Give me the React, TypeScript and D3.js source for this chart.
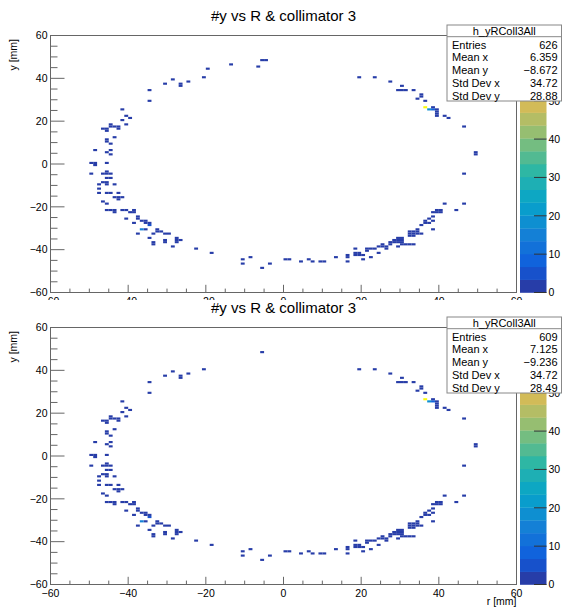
import React from 'react';
import * as d3 from 'd3';

type Cell = [number, number, number];

// [x bin lower edge (mm), y bin lower edge (mm), entries]
const sharedCells: Cell[] = [
  // upper-left arc
  [-35, 34, 1], [-35, 29, 1], [-31, 37, 1], [-29, 39, 1], [-27, 37, 2], [-27, 36, 2], [-25, 38, 1], [-21, 40, 1], [-6, 48, 1],
  // upper-right arc
  [19, 40, 1], [23, 40, 1], [27, 38, 1], [30, 36, 1], [29, 34, 1], [30, 34, 1], [31, 34, 1], [33, 34, 1],
  [35, 32, 2], [35, 31, 2], [34, 30, 1], [36, 29, 2], [36, 26, 64], [37, 25, 18], [38, 25, 9], [38, 26, 2],
  [39, 25, 3], [39, 24, 3], [39, 23, 3], [39, 22, 2], [41, 22, 1], [42, 21, 1], [46, 17, 1],
  // right side
  [49, 4, 3], [49, 5, 3], [46, -5, 1], [41, -19, 1], [46, -19, 1], [44, -22, 1],
  // lower-right band
  [39, -22, 2], [40, -22, 2], [38, -23, 2], [39, -23, 2], [40, -23, 1],
  [38, -25, 1], [37, -26, 2], [38, -27, 1], [37, -28, 1], [36, -27, 2], [36, -28, 2], [38, -31, 1],
  [35, -29, 2], [35, -33, 1], [34, -31, 2], [34, -32, 2], [34, -33, 2], [33, -32, 2], [33, -33, 3], [33, -34, 2],
  [32, -32, 1], [32, -33, 2], [32, -34, 2],
  [30, -38, 1], [31, -38, 1], [32, -38, 1], [33, -38, 1],
  [29, -35, 2], [29, -36, 2], [30, -35, 2], [30, -36, 3], [29, -37, 1], [30, -37, 2],
  [28, -36, 2], [28, -37, 1], [27, -37, 1], [27, -38, 1], [29, -39, 1],
  [25, -38, 1], [25, -39, 1], [26, -39, 2], [26, -40, 1], [24, -39, 1], [23, -40, 1], [22, -40, 1], [21, -40, 1], [21, -41, 1], [24, -42, 1],
  [22, -44, 1], [20, -43, 1], [19, -42, 1], [18, -40, 1], [18, -42, 2], [18, -43, 2], [19, -43, 1], [20, -45, 1],
  [16, -43, 1], [16, -44, 1], [16, -46, 1], [13, -44, 1],
  [9, -46, 1], [10, -46, 1], [7, -46, 1], [6, -45, 1], [4, -46, 1], [0, -45, 1], [1, -45, 1],
  // lower-left band
  [-23, -40, 1], [-19, -42, 1], [-11, -45, 1], [-11, -47, 1], [-9, -44, 1], [-6, -49, 1], [-4, -47, 1],
  [-27, -36, 2], [-28, -35, 2], [-28, -36, 2], [-28, -37, 1], [-29, -39, 1], [-31, -36, 2], [-31, -37, 2],
  [-31, -33, 1], [-30, -33, 1], [-32, -32, 1], [-33, -31, 2], [-33, -32, 2], [-34, -33, 1], [-34, -37, 1], [-34, -38, 1], [-35, -35, 1],
  [-35, -28, 2], [-35, -29, 6], [-36, -31, 2], [-37, -31, 14], [-37, -27, 2], [-36, -27, 2], [-36, -28, 2],
  [-38, -25, 2], [-38, -26, 2], [-38, -33, 1], [-39, -28, 1], [-40, -23, 2], [-39, -23, 2], [-39, -22, 2],
  [-41, -22, 1], [-42, -22, 1], [-41, -26, 1],
  [-46, -22, 2], [-45, -22, 2], [-44, -22, 2], [-44, -23, 2],
  [-47, -18, 1], [-46, -19, 1], [-43, -16, 2], [-42, -16, 1], [-43, -17, 2], [-44, -16, 1], [-43, -14, 1], [-45, -14, 1], [-46, -14, 1],
  [-48, -10, 1], [-48, -12, 1], [-48, -14, 1], [-44, -10, 1], [-47, -9, 2], [-46, -9, 2], [-46, -10, 1],
  [-46, -7, 2], [-45, -7, 2], [-47, -5, 2], [-46, -5, 2], [-45, -5, 2], [-46, -4, 1], [-50, -5, 1],
  [-50, 0, 2], [-49, 0, 2], [-49, -1, 2], [-46, 0, 1],
  [-49, 6, 1], [-46, 5, 1], [-45, 6, 1], [-45, 4, 1],
  // upper-left cluster
  [-47, 16, 2], [-46, 16, 2], [-46, 15, 1], [-45, 17, 1], [-45, 18, 1], [-46, 11, 1], [-46, 10, 1], [-45, 9, 1],
  [-44, 12, 1], [-44, 17, 2], [-43, 17, 2], [-43, 16, 1], [-41, 18, 1], [-42, 20, 1], [-41, 22, 1], [-40, 21, 1], [-42, 25, 1],
];

const topOnlyCells: Cell[] = [[-20, 44, 1], [-14, 46, 1], [-7, 45, 1], [-5, 48, 1]];
const bottomOnlyCells: Cell[] = [];

const axisTicks = [-60, -40, -20, 0, 20, 40, 60];
const zTicks = [0, 10, 20, 30, 40, 50, 60];
const Z_MAX = 67;
const N_LEVELS = 20;

const histName = 'h_yRColl3All';
const statLabels = ['Entries', 'Mean x', 'Mean y', 'Std Dev x', 'Std Dev y'];
const statsTopValues = ['626', '6.359', '\u22128.672', '34.72', '28.88'];
const statsBottomValues = ['609', '7.125', '\u22129.236', '34.72', '28.49'];
const titleText = '#y vs R & collimator 3';

// ROOT kBird palette
const birdStops = [0, 0.125, 0.25, 0.375, 0.5, 0.625, 0.75, 0.875, 1];
const birdR = [0.2082, 0.0592, 0.078, 0.0232, 0.1802, 0.5301, 0.8186, 0.9956, 0.9764];
const birdG = [0.1664, 0.3599, 0.5041, 0.6419, 0.7178, 0.7492, 0.7328, 0.7862, 0.9832];
const birdB = [0.5293, 0.8684, 0.8385, 0.7914, 0.6425, 0.4662, 0.3499, 0.1968, 0.0539];

const birdScale = d3
  .scaleLinear<string>()
  .domain(birdStops)
  .range(birdStops.map((_, i) => d3.rgb(birdR[i] * 255, birdG[i] * 255, birdB[i] * 255).formatHex()))
  .interpolate(d3.interpolateRgb);

const levelColor = (level: number) => {
  const idx = Math.min(254, Math.floor((level + 0.99) * 255 / N_LEVELS));
  return birdScale(idx / 254);
};
const countColor = (c: number) => levelColor(Math.min(N_LEVELS - 1, Math.floor(c / (Z_MAX / N_LEVELS))));

const FONT = '"Liberation Sans", Arial, Helvetica, sans-serif';
const AX = '#666';
const fmt = (v: number) => (v < 0 ? '\u2212' + Math.abs(v) : String(v));

const xScale = d3.scaleLinear().domain([-60, 60]).range([50.5, 516.5]);
const xMinor = d3.range(-60, 60.01, 5);
const yMinor = d3.range(-60, 60.01, 5);

function Panel({ dy, cells, values, showXTitle }: { dy: number; cells: Cell[]; values: string[]; showXTitle: boolean }) {
  const frameTop = 35.5 + dy;
  const frameBottom = 292.5 + dy;
  const yScale = d3.scaleLinear().domain([-60, 60]).range([frameBottom, frameTop]);
  const zScale = d3.scaleLinear().domain([0, Z_MAX]).range([frameBottom, frameTop]);
  const [x0, x1] = xScale.range();
  const boxTop = 25 + dy;
  const boxBottom = 101 + dy;
  const boxLeft = 447;
  const boxRight = 561.5;
  const rowBase = [23.5, 36.3, 49.1, 61.9, 74.7];
  const bandH = (frameBottom - frameTop) / N_LEVELS;
  return (
    <g>
      <text x={283.5} y={20.5 + dy} textAnchor="middle" fontSize={15} fontFamily={FONT} fill="#000">{titleText}</text>
      {/* cells */}
      {cells.map(([bx, by, c], i) => (
        <rect key={i} x={xScale(bx)} y={yScale(by + 1)} width={xScale(bx + 1) - xScale(bx)}
          height={yScale(by) - yScale(by + 1)} fill={countColor(c)} />
      ))}
      {/* frame */}
      <rect x={x0} y={frameTop} width={x1 - x0} height={frameBottom - frameTop} fill="none" stroke={AX} strokeWidth={1} />
      {/* y ticks */}
      {yMinor.map((v) => (
        <line key={'ym' + v} x1={x0} x2={x0 + (v % 20 === 0 ? 14 : 7)} y1={yScale(v)} y2={yScale(v)} stroke={AX} />
      ))}
      {axisTicks.map((v) => (
        <text key={'yl' + v} x={47.5} y={yScale(v) + 3.8} textAnchor="end" fontSize={10.5} fontFamily={FONT}>{fmt(v)}</text>
      ))}
      {/* x ticks */}
      {xMinor.map((v) => (
        <line key={'xm' + v} x1={xScale(v)} x2={xScale(v)} y1={frameBottom} y2={frameBottom - (v % 20 === 0 ? 7.7 : 3.9)} stroke={AX} />
      ))}
      {axisTicks.map((v) => (
        <text key={'xl' + v} x={xScale(v)} y={frameBottom + 12.8} textAnchor="middle" fontSize={10.5} fontFamily={FONT}>{fmt(v)}</text>
      ))}
      <text transform={`translate(16.5,${39 + dy}) rotate(-90)`} textAnchor="end" fontSize={10.5} fontFamily={FONT}>y [mm]</text>
      {showXTitle && (
        <text x={516.5} y={frameBottom + 20.5} textAnchor="end" fontSize={10.5} fontFamily={FONT}>r [mm]</text>
      )}
      {/* colour bar */}
      {d3.range(N_LEVELS).map((l) => (
        <rect key={'b' + l} x={520} y={frameBottom - (l + 1) * bandH} width={26.5} height={bandH + 0.3} fill={levelColor(l)} />
      ))}
      {zTicks.map((v) => (
        <g key={'z' + v}>
          <line x1={534} x2={546.5} y1={zScale(v)} y2={zScale(v)} stroke="#333" />
          <text x={548.5} y={zScale(v) + 3.8} fontSize={10.5} fontFamily={FONT}>{v}</text>
        </g>
      ))}
      {/* stats box */}
      <rect x={boxLeft} y={boxTop} width={boxRight - boxLeft} height={boxBottom - boxTop} fill="#fff" stroke="#888" />
      <line x1={boxLeft} x2={boxRight} y1={boxTop + 11.7} y2={boxTop + 11.7} stroke="#888" />
      <text x={(boxLeft + boxRight) / 2} y={boxTop + 10} textAnchor="middle" fontSize={11} fontFamily={FONT}>{histName}</text>
      {statLabels.map((lab, i) => (
        <g key={lab}>
          <text x={boxLeft + 5} y={boxTop + rowBase[i]} fontSize={11} fontFamily={FONT}>{lab}</text>
          <text x={boxRight - 4} y={boxTop + rowBase[i]} textAnchor="end" fontSize={11} fontFamily={FONT}>{values[i]}</text>
        </g>
      ))}
    </g>
  );
}

export default function App() {
  const topCells = [...sharedCells, ...topOnlyCells];
  const bottomCells = [...sharedCells, ...bottomOnlyCells];
  return (
    <svg width={563} height={607} style={{ position: 'absolute', left: 0, top: 0, background: '#fff' }}>
      <defs>
        <clipPath id="topPad"><rect x={0} y={0} width={563} height={300} /></clipPath>
        <clipPath id="botPad"><rect x={0} y={300} width={563} height={307} /></clipPath>
      </defs>
      <rect x={0} y={0} width={563} height={607} fill="#fff" />
      <g clipPath="url(#topPad)">
        <Panel dy={0} cells={topCells} values={statsTopValues} showXTitle={false} />
      </g>
      <g clipPath="url(#botPad)">
        <Panel dy={292} cells={bottomCells} values={statsBottomValues} showXTitle={true} />
      </g>
    </svg>
  );
}
